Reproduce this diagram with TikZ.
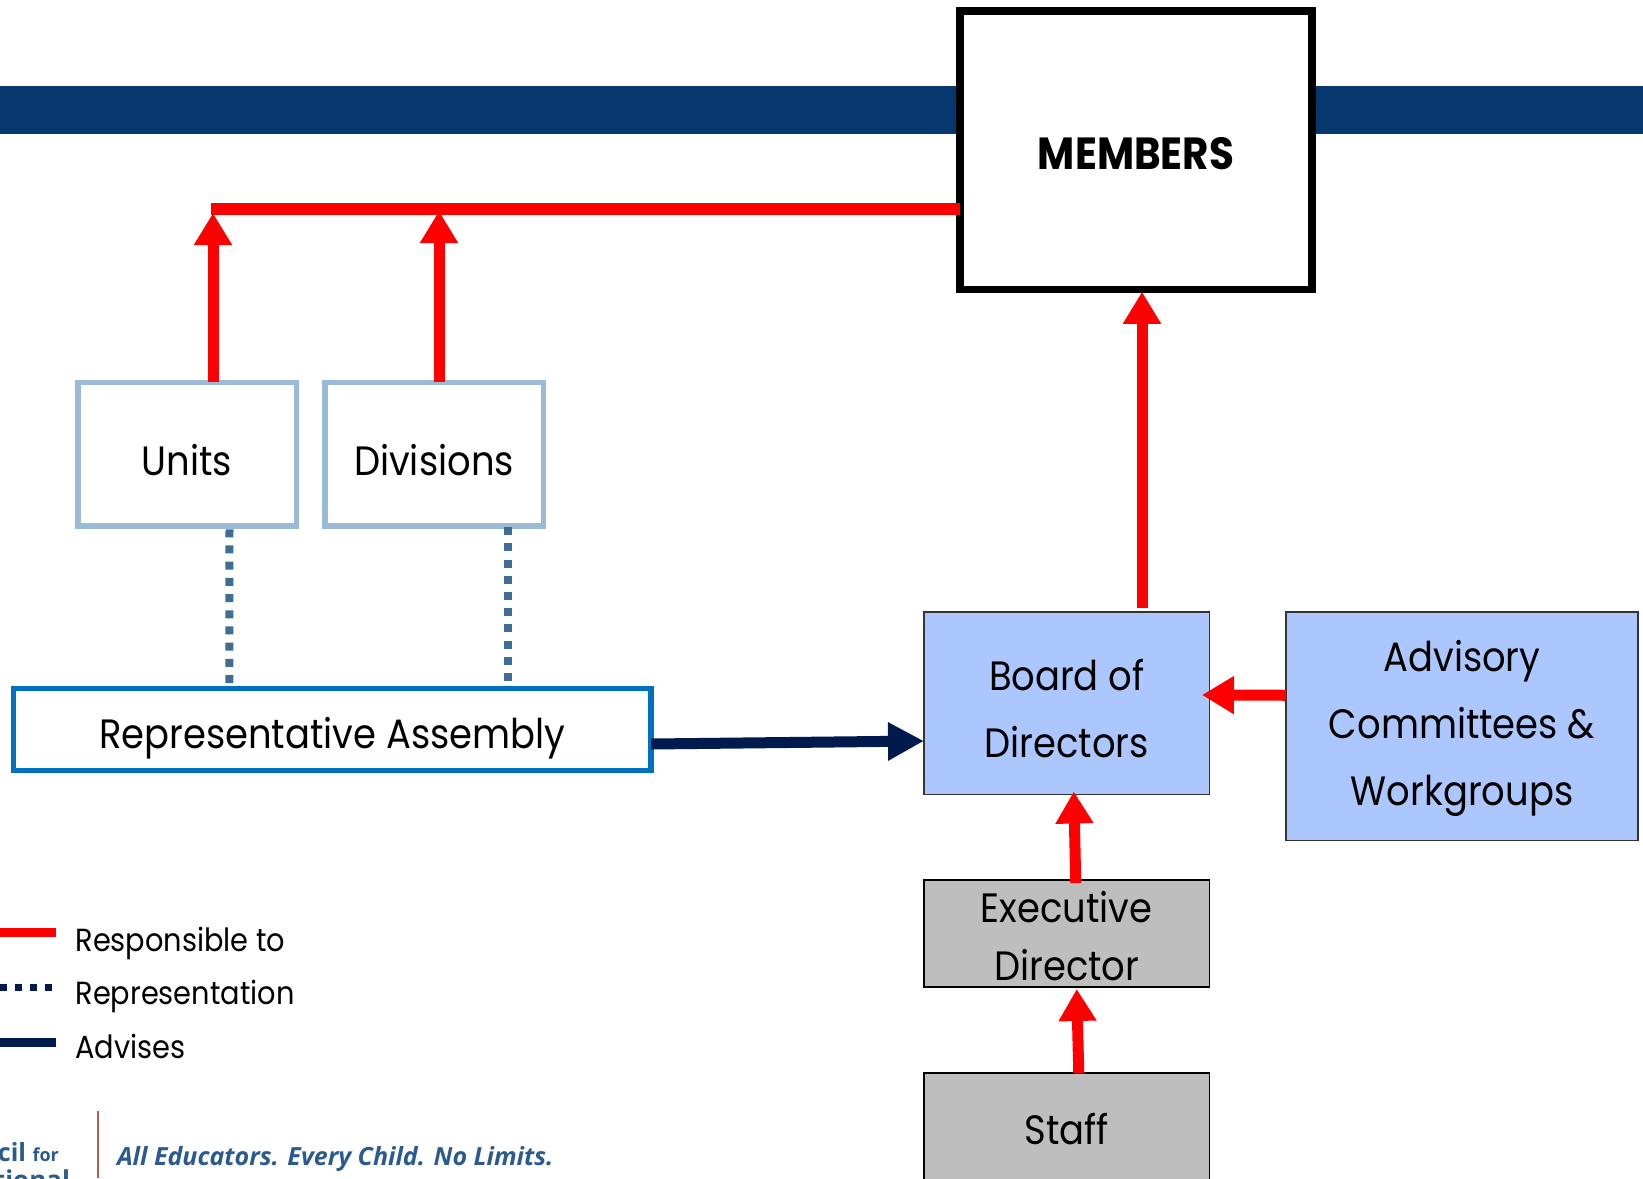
\documentclass[tikz,border=0pt]{standalone}
\usepackage{fontspec}
\setmainfont[FakeStretch=0.9]{Poppins}
\newfontfamily\logofont{Open Sans}
\usetikzlibrary{arrows.meta}
\definecolor{barblue}{HTML}{06376F}
\definecolor{boardblue}{HTML}{ABC7FD}
\definecolor{staffgray}{HTML}{BEBEBE}
\definecolor{unitblue}{HTML}{9ABBD8}
\definecolor{asmblue}{HTML}{0070C0}
\definecolor{dotblue}{HTML}{3F6D96}
\definecolor{navyline}{HTML}{001A4E}
\definecolor{logoblue}{HTML}{2B5A8E}
\definecolor{logorule}{HTML}{B0604F}
\newcommand{\topstrut}[1]{\rule{0pt}{#1}}

\begin{document}
\begin{tikzpicture}[x=1pt,y=-1pt,every node/.style={inner sep=0pt,outer sep=0pt,align=center},bar/.style={fill=barblue,minimum width=1643pt,minimum height=48pt},memberbox/.style={draw=black,line width=7.5pt,fill=white,minimum width=352pt,minimum height=278.5pt,text height=38pt,text depth=0pt,font=\fontsize{45}{50}\selectfont\bfseries},unitbox/.style={draw=unitblue,line width=5.5pt,fill=white,minimum width=218.5pt,minimum height=143.5pt,text height=42pt,text depth=0pt,font=\fontsize{41}{67}\selectfont},asmbox/.style={draw=asmblue,line width=5.5pt,fill=white,minimum width=637.5pt,minimum height=82pt,text height=37pt,text depth=0pt,font=\fontsize{41}{67}\selectfont},boardbox/.style={draw=black!80,line width=1.2pt,fill=boardblue,font=\fontsize{41}{67}\selectfont},staffbox/.style={draw=black,line width=1.2pt,fill=staffgray,minimum width=285.5pt,font=\fontsize{41}{58}\selectfont},legendtext/.style={anchor=base west,font=\fontsize{32}{36}\selectfont},resp/.style={draw=red,line width=12pt},respto/.style={draw=red,line width=11pt,-{Triangle[width=36pt,length=32pt]}},repline/.style={draw=dotblue,line width=8pt,dash pattern=on 8pt off 8.2pt},advto/.style={draw=navyline,line width=11pt,-{Triangle[width=36pt,length=36pt]}}]
\clip (0,0) rectangle (1643,1178);
\useasboundingbox (0,0) rectangle (1643,1178);
\node[bar] (bar) at (821.5,110) {};
\node[memberbox] (members) at (1136,150) {MEMBERS};
\node[unitbox] (units) at (187,454) {Units};
\node[unitbox] (divisions) at (434,454) {Divisions};
\node[asmbox] (assembly) at (332.3,729.5) {Representative Assembly};
\node[boardbox,minimum width=285.5pt,minimum height=182.5pt] (board) at (1066.75,703.25) {\topstrut{41.7pt}Board of\\Directors};
\node[boardbox,minimum width=352pt,minimum height=228.5pt] (advisory) at (1462,726.25) {\topstrut{35pt}Advisory\\Committees \&\\Workgroups};
\node[staffbox,minimum height=107pt] (exec) at (1066.75,933.5) {\topstrut{37pt}Executive\\Director};
\node[staffbox,minimum height=112pt,text height=30pt,text depth=0pt] (staff) at (1066.75,1129) {Staff};
\coordinate (topleft) at (211,208.5);
\coordinate (unittop) at (213,213);
\coordinate (divtop) at (439,211);
\draw[resp] (topleft) -- (topleft -| members.west);
\draw[respto] ([xshift=26pt]units.north) -- (unittop);
\draw[respto] ([xshift=5pt]divisions.north) -- (divtop);
\draw[respto] ([xshift=75.25pt,yshift=4pt]board.north) -- ([xshift=6pt,yshift=-2.5pt]members.south);
\draw[respto] ([yshift=31pt]advisory.west) -- ([xshift=-7.5pt,yshift=8.25pt]board.east);
\draw[respto] ([xshift=9pt,yshift=-3pt]exec.north) -- ([xshift=7pt,yshift=3pt]board.south);
\draw[respto] ([xshift=12pt]staff.north) -- ([xshift=10pt,yshift=-2pt]exec.south);
\draw[repline] ([xshift=42.5pt,yshift=-3.5pt]units.south) -- ([xshift=-103pt]assembly.north);
\draw[repline] ([xshift=74pt,yshift=-1.5pt]divisions.south) -- ([xshift=175.7pt]assembly.north);
\draw[advto] ([yshift=-14.5pt]assembly.east) -- ([yshift=-37.75pt]board.west);
\node[legendtext] (resplabel) at (75.5,951) {Responsible to};
\node[legendtext] (replabel) at (75.5,1004) {Representation};
\node[legendtext] (advlabel) at (75.5,1058) {Advises};
\coordinate (respa) at (0,932);
\coordinate (respb) at (56,932);
\coordinate (repa) at (0,987);
\coordinate (repb) at (52,987);
\coordinate (adva) at (0,1042);
\coordinate (advb) at (56,1042);
\draw[draw=red,line width=9pt] (respa) -- (respb);
\draw[draw=navyline,line width=7pt,dash pattern=on 7pt off 8pt] (repa) -- (repb);
\draw[draw=navyline,line width=9pt] (adva) -- (advb);
\coordinate (rulea) at (97.5,1111);
\coordinate (ruleb) at (97.5,1178);
\draw[draw=logorule,line width=2pt] (rulea) -- (ruleb);
\node[anchor=base west,text=logoblue,font=\logofont\bfseries\itshape\fontsize{25}{30}\selectfont] (tagline) at (117,1165) {All Educators. Every Child. No Limits.};
\node[anchor=base west,text=logoblue,font=\logofont\bfseries\fontsize{25}{30}\selectfont] (logocil) at (-2,1161) {cil \fontsize{18}{24}\selectfont for};
\node[anchor=base west,text=logoblue,font=\logofont\bfseries\fontsize{26}{30}\selectfont] (logotional) at (-6,1189) {tional};
\end{tikzpicture}
\end{document}
